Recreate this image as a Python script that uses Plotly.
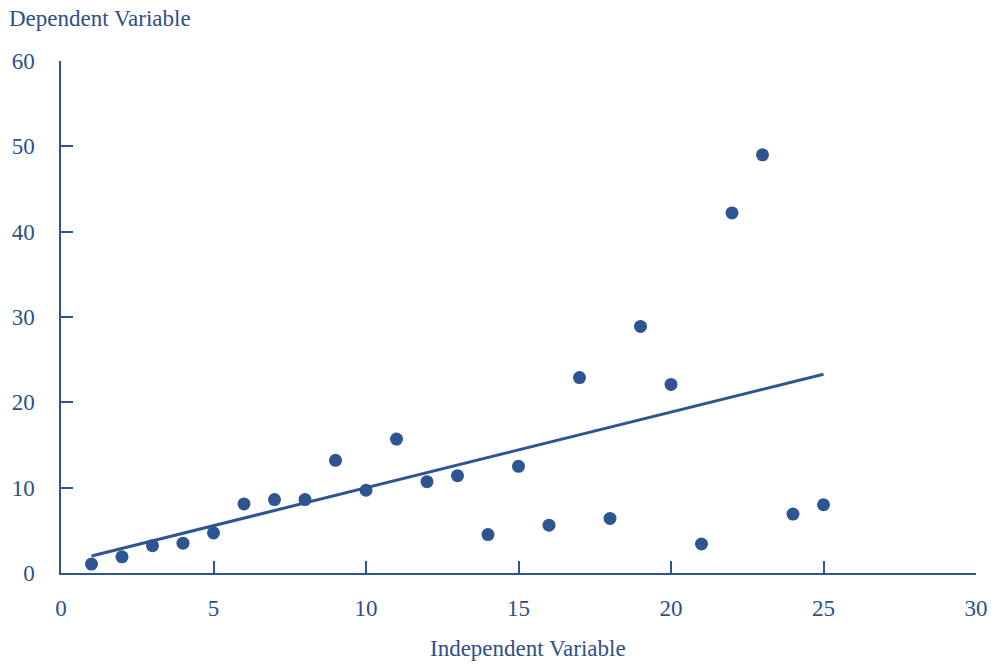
import plotly.graph_objects as go

x_vals = list(range(1, 26))
y_vals = [1.05, 1.9, 3.2, 3.5, 4.7, 8.1, 8.6, 8.6, 13.2, 9.7, 15.7, 10.7, 11.4, 4.5,
          12.5, 5.6, 22.9, 6.4, 28.9, 22.1, 3.4, 42.2, 49.0, 6.9, 8.0]
trend_x = [1, 25]
trend_y = [2.0, 23.3]

color = "#2E5592"
text_color = "#2E4F8A"
font_family = "Liberation Serif, Times New Roman, serif"

fig = go.Figure()
fig.add_trace(go.Scatter(x=trend_x, y=trend_y, mode="lines",
                         line=dict(color=color, width=3), showlegend=False))
fig.add_trace(go.Scatter(x=x_vals, y=y_vals, mode="markers",
                         marker=dict(color=color, size=13), showlegend=False))

fig.update_layout(
    width=1000, height=670,
    margin=dict(l=60, r=21, t=61, b=97),
    plot_bgcolor="white", paper_bgcolor="white",
    font=dict(family=font_family, size=23, color=text_color),
    xaxis=dict(range=[0, 30], tickvals=[0, 5, 10, 15, 20, 25, 30],
               showgrid=False, zeroline=False, showline=True, linecolor=color, linewidth=1.5,
               ticks="inside", ticklen=12, tickwidth=1.5, tickcolor=color,
               ticklabelstandoff=14),
    yaxis=dict(range=[0, 60], tickvals=[0, 10, 20, 30, 40, 50, 60],
               showgrid=False, zeroline=False, showline=True, linecolor=color, linewidth=1.5,
               ticks="inside", ticklen=12, tickwidth=1.5, tickcolor=color,
               ticklabelstandoff=20),
    annotations=[
        dict(text="Dependent Variable", xref="paper", yref="paper", x=-0.0585, y=1.0,
             yshift=43, xanchor="left", yanchor="middle", showarrow=False,
             font=dict(size=23, color=text_color)),
        dict(text="Independent Variable", x=15.3, xref="x", yref="paper", y=0,
             yshift=-75, xanchor="center", yanchor="middle", showarrow=False,
             font=dict(size=23, color=text_color)),
    ],
)

fig.write_html("out.html")
